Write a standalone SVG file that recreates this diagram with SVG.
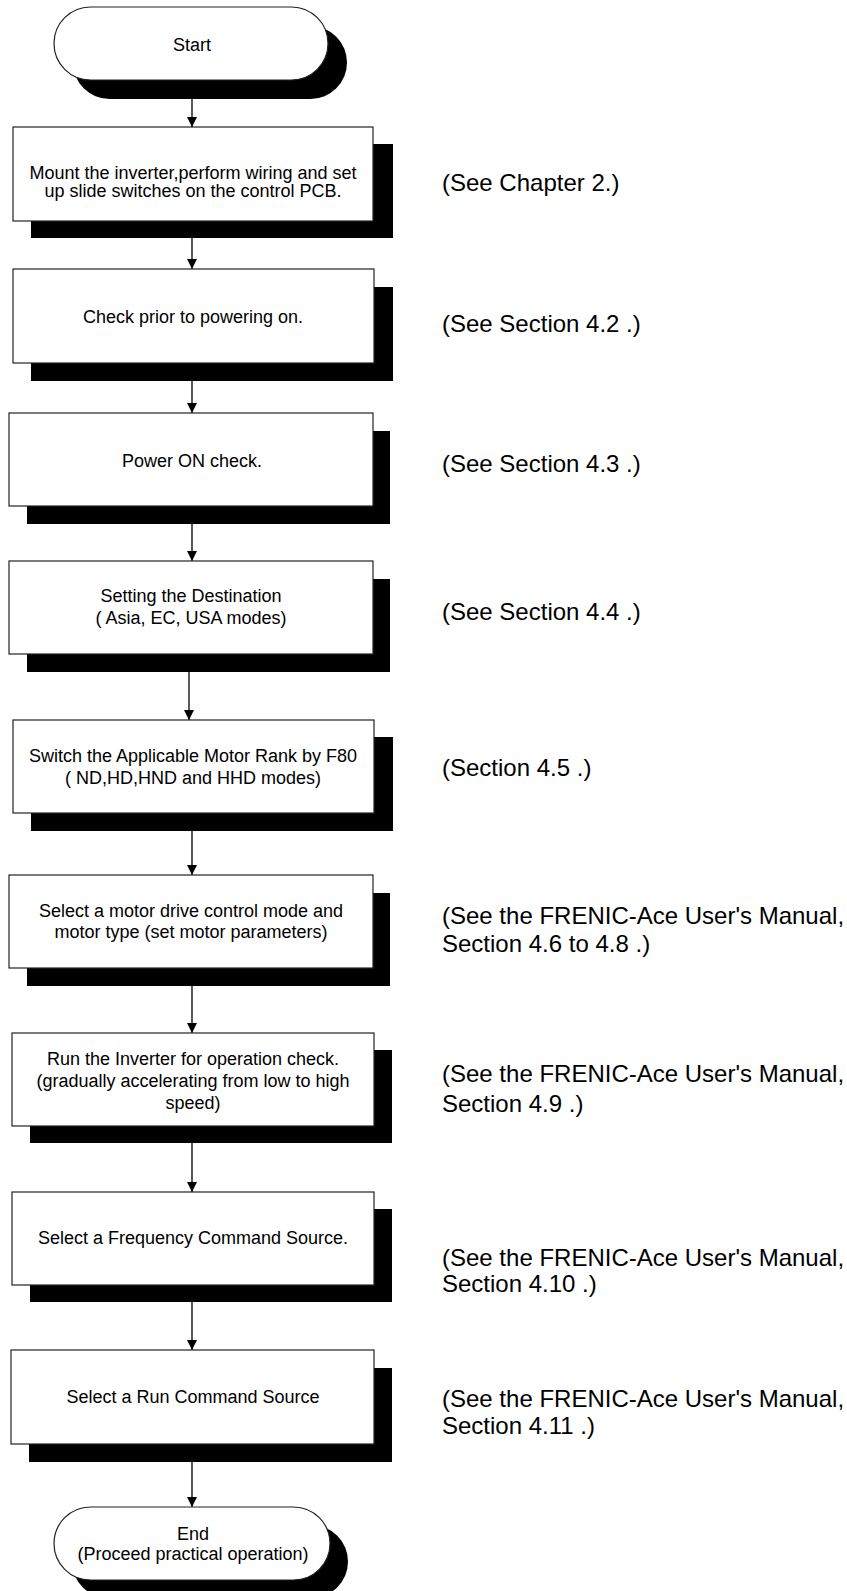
<svg xmlns="http://www.w3.org/2000/svg" width="847" height="1591" viewBox="0 0 847 1591">
<style>
.sh{fill:#000}
.bx{fill:#fff;stroke:#222;stroke-width:1.2}
.t{font-family:"Liberation Sans",Arial,sans-serif;font-size:18px;fill:#000;text-anchor:middle}
.r{font-family:"Liberation Sans",Arial,sans-serif;font-size:24px;fill:#000}
.c{stroke:#000;stroke-width:1.3;fill:none;marker-end:url(#ah)}
</style>
<defs>
<marker id="ah" markerUnits="userSpaceOnUse" markerWidth="12" markerHeight="12" refX="10" refY="5" orient="auto">
<path d="M0,0 L10,5 L0,10 Z" fill="#000"/>
</marker>
</defs>
<rect width="847" height="1591" fill="#fff"/>
<g id="connectors">
<line class="c" x1="192" y1="99" x2="192" y2="127"/>
<line class="c" x1="192" y1="238" x2="192" y2="269"/>
<line class="c" x1="192" y1="381" x2="192" y2="413"/>
<line class="c" x1="192" y1="524" x2="192" y2="561"/>
<line class="c" x1="189" y1="672" x2="189" y2="720"/>
<line class="c" x1="192" y1="831" x2="192" y2="875"/>
<line class="c" x1="192" y1="986" x2="192" y2="1033"/>
<line class="c" x1="192" y1="1143" x2="192" y2="1192"/>
<line class="c" x1="192" y1="1302" x2="192" y2="1350"/>
<line class="c" x1="192" y1="1462" x2="192" y2="1507"/>
</g>
<g id="start">
<rect class="sh" x="73" y="26" width="274" height="73" rx="36.5"/>
<rect class="bx" x="54" y="7" width="274" height="73" rx="36.5"/>
<text class="t" x="192" y="50.5">Start</text>
</g>
<g id="step1">
<rect class="sh" x="31" y="144" width="362" height="94"/>
<rect class="bx" x="13" y="127" width="360" height="94"/>
<text class="t" x="193" y="179">Mount the inverter,perform wiring and set</text>
<text class="t" x="193" y="197.3">up slide switches on the control PCB.</text>
<text class="r" x="442" y="190.5">(See Chapter 2.)</text>
</g>
<g id="step2">
<rect class="sh" x="31" y="287" width="362" height="94"/>
<rect class="bx" x="13" y="269" width="361" height="94"/>
<text class="t" x="193" y="322.5">Check prior to powering on.</text>
<text class="r" x="442" y="331.5">(See Section 4.2 .)</text>
</g>
<g id="step3">
<rect class="sh" x="27" y="431" width="363" height="93"/>
<rect class="bx" x="9" y="413" width="364" height="93"/>
<text class="t" x="192" y="466.5">Power ON check.</text>
<text class="r" x="442" y="471.5">(See Section 4.3 .)</text>
</g>
<g id="step4">
<rect class="sh" x="27" y="579" width="363" height="93"/>
<rect class="bx" x="9" y="561" width="364" height="93"/>
<text class="t" x="191" y="602">Setting the Destination</text>
<text class="t" x="191" y="624.4">( Asia, EC, USA modes)</text>
<text class="r" x="442" y="620">(See Section 4.4 .)</text>
</g>
<g id="step5">
<rect class="sh" x="31" y="737" width="362" height="94"/>
<rect class="bx" x="13" y="720" width="361" height="93"/>
<text class="t" x="193" y="762">Switch the Applicable Motor Rank by F80</text>
<text class="t" x="193" y="783.7">( ND,HD,HND and HHD modes)</text>
<text class="r" x="442" y="776">(Section 4.5 .)</text>
</g>
<g id="step6">
<rect class="sh" x="27" y="893" width="363" height="93"/>
<rect class="bx" x="9" y="875" width="364" height="93"/>
<text class="t" x="191" y="916.7">Select a motor drive control mode and</text>
<text class="t" x="191" y="938">motor type (set motor parameters)</text>
<text class="r" x="442" y="923.5">(See the FRENIC-Ace User's Manual,</text>
<text class="r" x="442" y="951.8">Section 4.6 to 4.8 .)</text>
</g>
<g id="step7">
<rect class="sh" x="30" y="1050" width="362" height="93"/>
<rect class="bx" x="12" y="1033" width="362" height="93"/>
<text class="t" x="193" y="1065.4">Run the Inverter for operation check.</text>
<text class="t" x="193" y="1087">(gradually accelerating from low to high</text>
<text class="t" x="193" y="1108.5">speed)</text>
<text class="r" x="442" y="1082">(See the FRENIC-Ace User's Manual,</text>
<text class="r" x="442" y="1112">Section 4.9 .)</text>
</g>
<g id="step8">
<rect class="sh" x="30" y="1209" width="362" height="93"/>
<rect class="bx" x="12" y="1192" width="362" height="93"/>
<text class="t" x="193" y="1244">Select a Frequency Command Source.</text>
<text class="r" x="442" y="1265.5">(See the FRENIC-Ace User's Manual,</text>
<text class="r" x="442" y="1291.5">Section 4.10 .)</text>
</g>
<g id="step9">
<rect class="sh" x="29" y="1368" width="363" height="94"/>
<rect class="bx" x="11" y="1350" width="363" height="94"/>
<text class="t" x="193" y="1403">Select a Run Command Source</text>
<text class="r" x="442" y="1406.5">(See the FRENIC-Ace User's Manual,</text>
<text class="r" x="442" y="1433.5">Section 4.11 .)</text>
</g>
<g id="end">
<rect class="sh" x="72" y="1525" width="276" height="73" rx="36.5"/>
<rect class="bx" x="54" y="1507" width="276" height="73" rx="36.5"/>
<text class="t" x="193" y="1539.7">End</text>
<text class="t" x="193" y="1560.4">(Proceed practical operation)</text>
</g>
</svg>
